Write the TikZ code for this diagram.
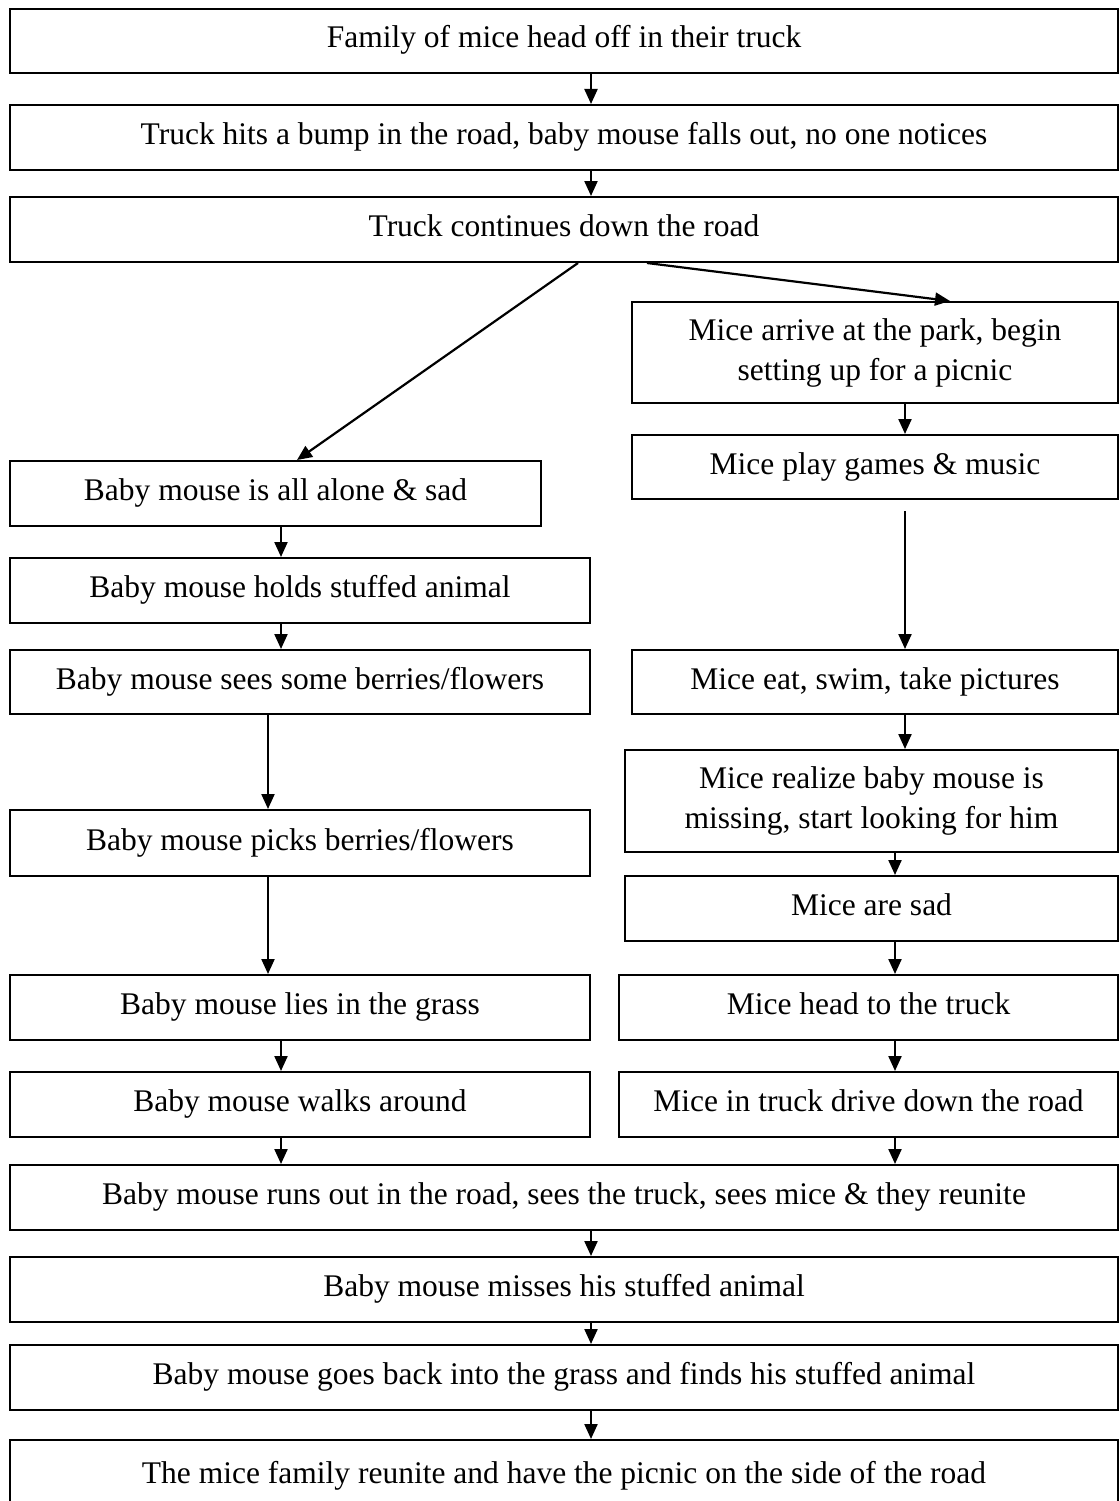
\documentclass[tikz,border=0pt]{standalone}
\usepackage{fontspec}
\setmainfont{Liberation Serif}
\usetikzlibrary{arrows.meta}
\tikzset{
  box/.style={draw, line width=2pt, inner sep=0pt, align=center, font=\fontsize{31.5}{40}\selectfont},
  one/.style={text height=21pt, text depth=7pt},
  arr/.style={line width=2.2pt, -{Triangle[length=15pt,width=13pt]}}
}
\newcommand{\bx}[7][one]{\node[box, #1, minimum width={#4-#3}, minimum height={#6-#5}] (#2) at ({(#3+#4)/2},{(#5+#6)/2}) {#7};}
\begin{document}
\begin{tikzpicture}[x=1pt,y=-1pt]
\useasboundingbox (0,0) rectangle (1119,1501);
\bx{b1}{10}{1118}{9}{73}{Family of mice head off in their truck}
\bx{b2}{10}{1118}{105}{170}{Truck hits a bump in the road, baby mouse falls out, no one notices}
\bx{b3}{10}{1118}{197}{262}{Truck continues down the road}
\bx[]{r1}{632}{1118}{302}{403}{Mice arrive at the park, begin\\setting up for a picnic}
\bx{r2}{632}{1118}{435}{499}{Mice play games \& music}
\bx{r3}{632}{1118}{650}{714}{Mice eat, swim, take pictures}
\bx[]{r4}{625}{1118}{750}{852}{Mice realize baby mouse is\\missing, start looking for him}
\bx{r5}{625}{1118}{876}{941}{Mice are sad}
\bx{r6}{619}{1118}{975}{1040}{Mice head to the truck}
\bx{r7}{619}{1118}{1072}{1137}{Mice in truck drive down the road}
\bx{l1}{10}{541}{461}{526}{Baby mouse is all alone \& sad}
\bx{l2}{10}{590}{558}{623}{Baby mouse holds stuffed animal}
\bx{l3}{10}{590}{650}{714}{Baby mouse sees some berries/flowers}
\bx{l4}{10}{590}{810}{876}{Baby mouse picks berries/flowers}
\bx{l5}{10}{590}{975}{1040}{Baby mouse lies in the grass}
\bx{l6}{10}{590}{1072}{1137}{Baby mouse walks around}
\bx{c1}{10}{1118}{1165}{1230}{Baby mouse runs out in the road, sees the truck, sees mice \& they reunite}
\bx{c2}{10}{1118}{1257}{1322}{Baby mouse misses his stuffed animal}
\bx{c3}{10}{1118}{1345}{1410}{Baby mouse goes back into the grass and finds his stuffed animal}
\bx{c4}{10}{1118}{1440}{1512}{The mice family reunite and have the picnic on the side of the road}
\coordinate (xc) at (591,0);
\coordinate (xr) at (905,0);
\coordinate (xs) at (895,0);
\coordinate (xl) at (281,0);
\coordinate (xm) at (268,0);
\coordinate (xd1) at (578,0);
\coordinate (xd2) at (297,0);
\coordinate (xe1) at (647,0);
\coordinate (xe2) at (950,0);
\draw[arr] (b1.south -| xc) -- (b2.north -| xc);
\draw[arr] (b2.south -| xc) -- (b3.north -| xc);
\draw[arr] (b3.south -| xd1) -- (l1.north -| xd2);
\draw[arr] (b3.south -| xe1) -- (r1.north -| xe2);
\draw[arr] (r1.south -| xr) -- (r2.north -| xr);
\draw[arr] ([yshift=-11pt]r2.south -| xr) -- (r3.north -| xr);
\draw[arr] (r3.south -| xr) -- (r4.north -| xr);
\draw[arr] (r4.south -| xs) -- (r5.north -| xs);
\draw[arr] (r5.south -| xs) -- (r6.north -| xs);
\draw[arr] (r6.south -| xs) -- (r7.north -| xs);
\draw[arr] (r7.south -| xs) -- (c1.north -| xs);
\draw[arr] (l1.south -| xl) -- (l2.north -| xl);
\draw[arr] (l2.south -| xl) -- (l3.north -| xl);
\draw[arr] (l3.south -| xm) -- (l4.north -| xm);
\draw[arr] (l4.south -| xm) -- (l5.north -| xm);
\draw[arr] (l5.south -| xl) -- (l6.north -| xl);
\draw[arr] (l6.south -| xl) -- (c1.north -| xl);
\draw[arr] (c1.south -| xc) -- (c2.north -| xc);
\draw[arr] (c2.south -| xc) -- (c3.north -| xc);
\draw[arr] (c3.south -| xc) -- (c4.north -| xc);
\end{tikzpicture}
\end{document}
